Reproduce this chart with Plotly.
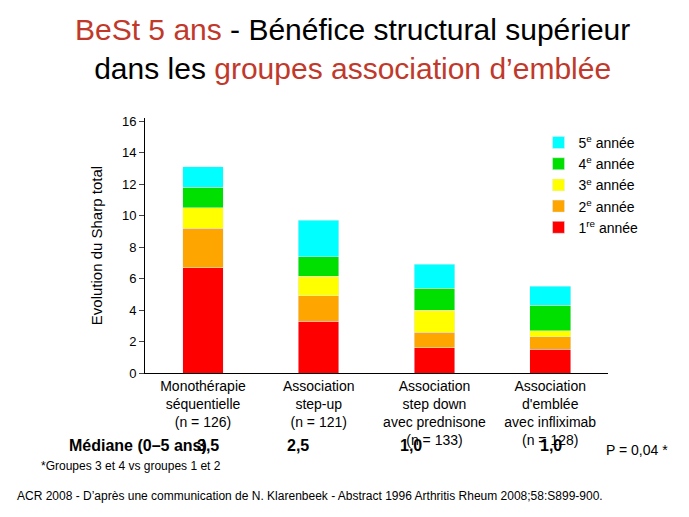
import plotly.graph_objects as go

categories = ["Monothérapie<br>séquentielle<br>(n = 126)", "Association<br>step-up<br>(n = 121)",
              "Association<br>step down<br>avec prednisone<br>(n = 133)", "Association<br>d'emblée<br>avec infliximab<br>(n = 128)"]
year1 = [6.7, 3.3, 1.6, 1.5]
year2 = [2.5, 1.6, 1.0, 0.8]
year3 = [1.3, 1.25, 1.4, 0.4]
year4 = [1.3, 1.25, 1.4, 1.6]
year5 = [1.3, 2.3, 1.5, 1.2]
medians = ["3,5", "2,5", "1,0", "1,0"]
median_x = [187, 290, 403, 556]

series = [("1<sup>re</sup> année", year1, "#ff0000"), ("2<sup>e</sup> année", year2, "#ffa500"),
          ("3<sup>e</sup> année", year3, "#ffff00"), ("4<sup>e</sup> année", year4, "#00e000"),
          ("5<sup>e</sup> année", year5, "#00ffff")]

fig = go.Figure()
for name, vals, col in series:
    fig.add_bar(x=categories, y=vals, name=name, marker_color=col, width=0.35)

fig.update_layout(
    barmode="stack", width=689, height=517, paper_bgcolor="white", plot_bgcolor="white",
    margin=dict(l=0, r=0, t=0, b=0), font=dict(family="Liberation Sans", color="black"),
    xaxis=dict(domain=[0.199, 0.871], anchor="y", showline=True, linecolor="black", ticks="",
               tickfont=dict(size=14), automargin=False),
    yaxis=dict(domain=[0.294, 0.787], range=[0, 16.2], dtick=2, showline=True, linecolor="black",
               ticks="outside", showgrid=False, tickfont=dict(size=13), automargin=False,
               title=dict(text="Evolution du Sharp total", font=dict(size=15))),
    legend=dict(x=0.77, y=0.77, xanchor="left", yanchor="top", traceorder="reversed",
                font=dict(size=14), bgcolor="rgba(0,0,0,0)"),
    showlegend=True,
)
fig.add_annotation(x=0.5, y=0.995, xref="paper", yref="paper", yanchor="top", showarrow=False,
                   text="<span style='color:#c0392b'>BeSt 5 ans</span> - Bénéfice structural supérieur<br>dans les <span style='color:#c0392b'>groupes association d’emblée</span>",
                   font=dict(size=30))
fig.add_annotation(x=0.085, y=1 - 448 / 517, xref="paper", yref="paper", xanchor="left", showarrow=False,
                   text="<b>Médiane (0–5 ans)</b>", font=dict(size=16))
for mx, m in zip(median_x, medians):
    fig.add_annotation(x=mx / 689, y=1 - 448 / 517, xref="paper", yref="paper", showarrow=False,
                       text="<b>" + m + "</b>", font=dict(size=16))
fig.add_annotation(x=0.045, y=1 - 467 / 517, xref="paper", yref="paper", xanchor="left", showarrow=False,
                   text="*Groupes 3 et 4 vs groupes 1 et 2", font=dict(size=12))
fig.add_annotation(x=0.865, y=1 - 452 / 517, xref="paper", yref="paper", xanchor="left", showarrow=False,
                   text="P = 0,04 *", font=dict(size=14))
fig.add_annotation(x=0.01, y=1 - 497 / 517, xref="paper", yref="paper", xanchor="left", showarrow=False,
                   text="ACR 2008 - D’après une communication de N. Klarenbeek - Abstract 1996 Arthritis Rheum 2008;58:S899-900.",
                   font=dict(size=12))
fig.write_html("out.html")
